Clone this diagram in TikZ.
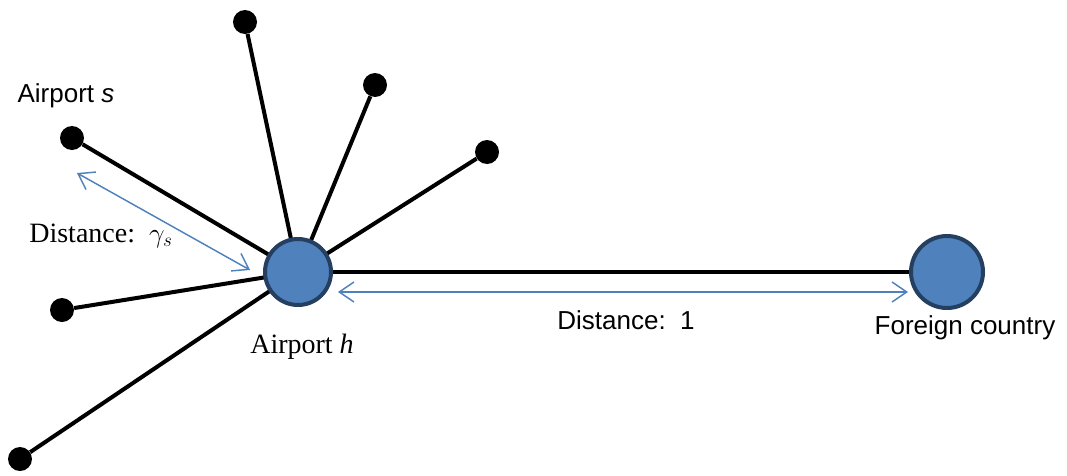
\documentclass[tikz,border=0pt]{standalone}
\usepackage{fontspec}
\setmainfont{Liberation Serif}
\setsansfont{Liberation Sans}
\usetikzlibrary{arrows.meta,backgrounds}
\definecolor{hubfill}{HTML}{4F81BD}
\definecolor{hubedge}{HTML}{243F60}
\begin{document}
\begin{tikzpicture}[x=0.75pt,y=-0.75pt,
  leaf/.style={circle,fill=black,minimum size=18pt,inner sep=0pt},
  hub/.style={circle,fill=hubfill,draw=hubedge,line width=3pt,inner sep=0pt},
  spoke/.style={line width=3pt,black},
  dist/.style={hubfill,line width=1.1pt,{Straight Barb[length=11pt,width=15pt]}-{Straight Barb[length=11pt,width=15pt]}},
  sanslabel/.style={font=\sffamily\fontsize{19.5}{23}\selectfont},
  seriflabel/.style={font=\rmfamily\fontsize{21}{25}\selectfont}]
\useasboundingbox (0,0) rectangle (1067,475);
\node[hub,minimum size=49.5pt] (h) at (298,272) {};
\node[hub,minimum size=54pt] (f) at (947,272) {};
\node[leaf] (l1) at (245,22) {};
\node[leaf] (l2) at (375,85) {};
\node[leaf] (l3) at (487,152) {};
\node[leaf] (s) at (72,138) {};
\node[leaf] (l5) at (62,310) {};
\node[leaf] (l6) at (20,459) {};
\begin{scope}[on background layer]
\foreach \n in {l1,l2,l3,s,l5,l6} \draw[spoke] (\n) -- (h.center);
\draw[spoke] (h.center) -- (f.center);
\end{scope}
\coordinate (a1) at (77,173);
\coordinate (a2) at (250,270);
\coordinate (b1) at (338,292);
\coordinate (b2) at (908,292);
\draw[dist] (a1) -- (a2);
\draw[dist] (b1) -- (b2);
\node[sanslabel] (ls) at (66,96) {Airport \textit{s}};
\node[seriflabel] (lg) at (101,236) {Distance:\ \ $\gamma_s$};
\node[seriflabel] (lh) at (302,347) {Airport \textit{h}};
\node[sanslabel] (l1t) at (626,320) {Distance:\ \ 1};
\node[sanslabel] (lf) at (965,328) {Foreign country};
\end{tikzpicture}
\end{document}
